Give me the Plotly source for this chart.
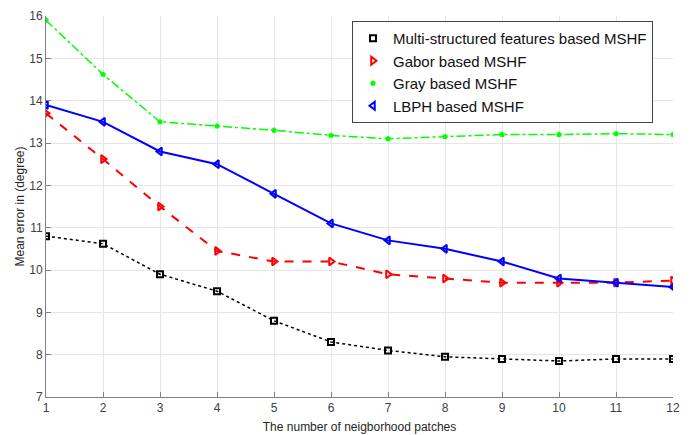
import plotly.graph_objects as go

patches = list(range(1, 13))
multi = [10.8, 10.62, 9.9, 9.5, 8.8, 8.3, 8.1, 7.95, 7.9, 7.85, 7.9, 7.9]
gabor = [13.7, 12.62, 11.5, 10.45, 10.2, 10.2, 9.9, 9.8, 9.7, 9.7, 9.7, 9.75]
gray = [15.9, 14.62, 13.5, 13.4, 13.3, 13.18, 13.1, 13.15, 13.2, 13.2, 13.22, 13.2]
lbph = [13.9, 13.5, 12.8, 12.5, 11.8, 11.1, 10.7, 10.5, 10.2, 9.8, 9.7, 9.6]
names = ["Multi-structured features based MSHF", "Gabor based MSHF",
         "Gray based MSHF", "LBPH based MSHF"]

series = [
    (multi, dict(color="black", dash="dot", width=1.5),
     dict(symbol="square-open", size=6, color="black", line=dict(width=2))),
    (gabor, dict(color="red", dash="dash", width=2),
     dict(symbol="triangle-right-open", size=7, color="red", line=dict(width=2))),
    (gray, dict(color="#00ff00", dash="dashdot", width=1.5),
     dict(symbol="pentagon", size=6, color="#00ff00")),
    (lbph, dict(color="blue", width=2),
     dict(symbol="triangle-left-open", size=7, color="blue", line=dict(width=2))),
]

fig = go.Figure()
for (vals, ln, mk), nm in zip(series, names):
    fig.add_trace(go.Scatter(x=patches, y=vals, name=nm, mode="lines+markers",
                             line=ln, marker=mk, showlegend=False))
# legend entries showing marker only
for (vals, ln, mk), nm in zip(series, names):
    fig.add_trace(go.Scatter(x=[None], y=[None], name=nm, mode="markers",
                             marker=mk, showlegend=True))

fig.update_layout(
    width=692, height=435,
    margin=dict(l=46, r=19, t=16, b=38, autoexpand=False),
    paper_bgcolor="white", plot_bgcolor="white",
    font=dict(family="Liberation Sans, Arial", color="#262626"),
    showlegend=True,
    legend=dict(x=0.488, y=0.987, xanchor="left", yanchor="top",
                bgcolor="white", bordercolor="#444444", borderwidth=1,
                font=dict(size=15, color="#111111"), tracegroupgap=0,
                itemwidth=30),
    xaxis=dict(range=[1, 12], tickvals=patches, showgrid=True, gridcolor="#e6e6e6",
               showline=True, linecolor="#808080", linewidth=1, ticks="inside",
               tickcolor="#808080", ticklen=5, zeroline=False, automargin=False,
               tickfont=dict(size=12, color="#404040"),
               title=dict(text="The number of neigborhood patches", font=dict(size=12, color="#262626"), standoff=8)),
    yaxis=dict(range=[7, 16], dtick=1, showgrid=True, gridcolor="#e6e6e6",
               showline=True, linecolor="#808080", linewidth=1, ticks="inside",
               tickcolor="#808080", ticklen=5, zeroline=False, automargin=False,
               tickfont=dict(size=12, color="#404040"),
               title=dict(text="Mean error in (degree)", font=dict(size=12, color="#262626"), standoff=2)),
)
fig.write_html("out.html", config={"displayModeBar": False},
               post_script="document.body.style.margin='0px';")
